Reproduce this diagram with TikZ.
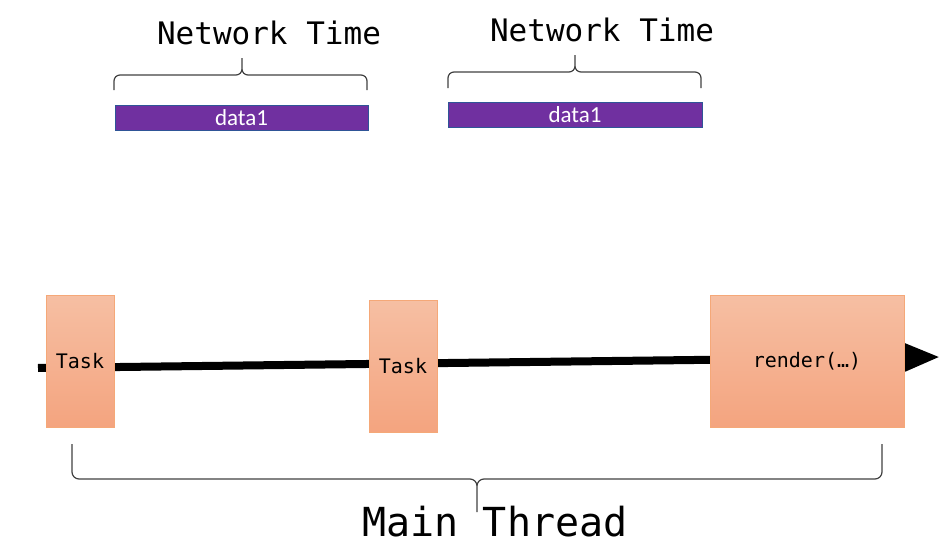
\documentclass[tikz,border=0pt]{standalone}
\usepackage{fontspec}
\setmainfont{Carlito}
\setmonofont{DejaVu Sans Mono}
\usepackage{tikz}
\usetikzlibrary{arrows.meta}

\definecolor{barpurple}{HTML}{7030A0}
\definecolor{barblue}{HTML}{2F5597}
\definecolor{tasktop}{HTML}{F6BFA3}
\definecolor{taskbot}{HTML}{F4A47F}
\definecolor{taskedge}{HTML}{F5A878}
\definecolor{bracegray}{HTML}{404040}

\begin{document}
\begin{tikzpicture}[x=0.5pt, y=-0.5pt,
  bar/.style={fill=barpurple, draw=barblue, line width=0.5pt, text=white,
    minimum height=12.5pt, inner sep=0pt, font=\fontsize{11.5}{13}\selectfont},
  task/.style={top color=tasktop, bottom color=taskbot, draw=taskedge, line width=0.5pt,
    minimum width=34pt, minimum height=66pt, inner sep=0pt, font=\ttfamily\fontsize{10}{12}\selectfont},
  heading/.style={font=\ttfamily\fontsize{15.5}{18}\selectfont},
  curly/.style={draw=bracegray, line width=0.6pt, rounded corners=3pt},
  timeline/.style={line width=4pt, -{Triangle[length=17.5pt,width=13pt]}}]
\useasboundingbox (0,0) rectangle (950,546);

% time line
\coordinate (start) at (38,368);
\coordinate (end) at (940,357);
\draw[timeline] (start) -- (end);

% main thread
\node[task] (task1) at (80,361) {Task};
\node[task] (task2) at (403,366) {Task};
\node[task, minimum width=97pt] (render) at (807,361) {render(…)};

% network requests
\node[bar, minimum width=126.5pt] (bar1) at (241.5,117.5) {data1};
\node[bar, minimum width=127pt] (bar2) at (575,115) {data1};
\node[heading] (net1) at (269,33) {Network Time};
\node[heading] (net2) at (602,30) {Network Time};

% braces
\draw[curly] (114,90) |- (242,75) -- (242,58) (367,90) |- (242,75) -- (242,58);
\draw[curly] (448,88) |- (575,72) -- (575,55) (701,88) |- (575,72) -- (575,55);
\draw[curly, rounded corners=3.5pt] (72,444) |- (477,479) -- (477,512) (882,444) |- (477,479) -- (477,512);
\node[font=\ttfamily\fontsize{20}{24}\selectfont] (mainthread) at (495,522) {Main Thread};
\end{tikzpicture}
\end{document}
